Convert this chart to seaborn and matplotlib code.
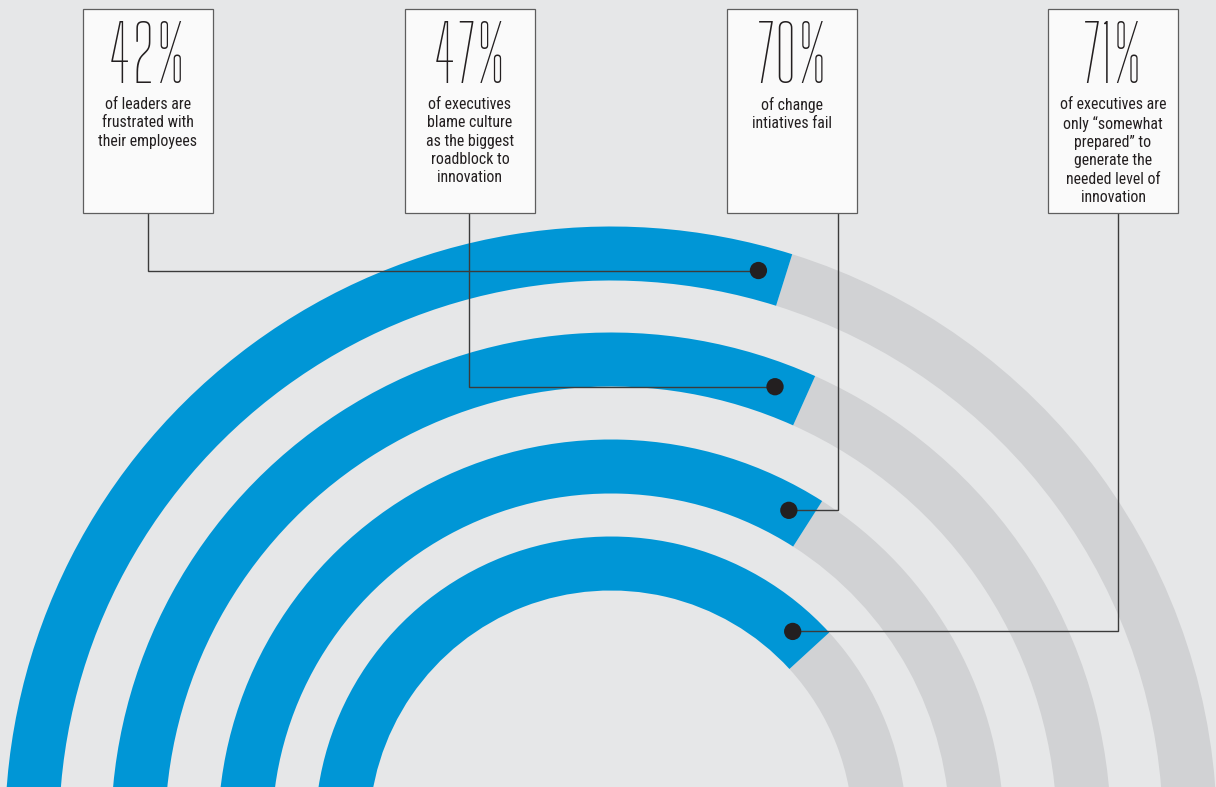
import matplotlib
matplotlib.use("Agg")
import numpy as np
import pandas as pd
import seaborn as sns
import matplotlib.pyplot as plt
from matplotlib.patches import Wedge, Rectangle

# ---------------- data ----------------
stat_values = [42, 47, 70, 71]
descriptions = [
    "of leaders are\nfrustrated with\ntheir employees",
    "of executives\nblame culture\nas the biggest\nroadblock to\ninnovation",
    "of change\nintiatives fail",
    "of executives are\nonly \u201csomewhat\nprepared\u201d to\ngenerate the\nneeded level of\ninnovation",
]
# angle (degrees, counter-clockwise from 3 o'clock) where each blue arc ends
blue_end_deg = [72.6, 65.9, 57.5, 42.5]
# angle of the marker dot on each arc
dot_deg = [75.3, 69.8, 61.1, 47.9]

# ---------------- layout ----------------
W, H = 1216, 787
BG = "#e6e7e8"
BLUE = "#0096d6"
GRAY = "#d1d2d4"
center = (611, -45.5)
outer_r = [606, 500, 393, 296]
ring_w = 54
box_cx = [148, 470, 792, 1113]
box_w, box_top, box_bot = 130, H - 9, H - 213
lead_x = [148, 469, 838, 1118]

sns.set_theme(style="white")
plt.rcParams["font.family"] = ["Roboto Condensed", "Archivo Narrow", "DejaVu Sans"]

fig = plt.figure(figsize=(W / 100, H / 100), dpi=100, facecolor=BG)
ax = fig.add_axes([0, 0, 1, 1])
ax.set_facecolor(BG)
ax.set_xlim(0, W)
ax.set_ylim(0, H)
ax.axis("off")

# arcs
for r, b_end in zip(outer_r, blue_end_deg):
    ax.add_patch(Wedge(center, r, 0, b_end, width=ring_w, facecolor=GRAY, edgecolor="none", zorder=1))
    ax.add_patch(Wedge(center, r, b_end, 180, width=ring_w, facecolor=BLUE, edgecolor="none", zorder=2))

# dots on arcs
mid_r = np.array(outer_r) - ring_w / 2 + 2
th = np.deg2rad(dot_deg)
dots = pd.DataFrame({
    "x": center[0] + mid_r * np.cos(th),
    "y": center[1] + mid_r * np.sin(th),
    "stat": [f"{v}%" for v in stat_values],
})

# leader lines
for lx, (dx, dy) in zip(lead_x, zip(dots["x"], dots["y"])):
    ax.plot([lx, lx, dx], [box_bot, dy, dy], color="#3b3b3b", lw=1.0, zorder=3,
            solid_joinstyle="miter")

sns.scatterplot(data=dots, x="x", y="y", ax=ax, s=155, color="#231f20",
                edgecolor="none", legend=False, zorder=4)

# boxes with text
for cx, val, desc in zip(box_cx, stat_values, descriptions):
    ax.add_patch(Rectangle((cx - box_w / 2, box_bot), box_w, box_top - box_bot,
                           facecolor="#fafafa", edgecolor="#5e5e5e", lw=0.9, zorder=5))
    ax.text(cx, H - 83, f"{val}%", ha="center", va="baseline", fontsize=55.5,
            family=["Big Shoulders Display", "Saira ExtraCondensed", "DejaVu Sans"], fontweight=200,
            color="#231f20", zorder=6)
    ax.text(cx, H - 97, desc, ha="center", va="top", fontsize=11.4, linespacing=1.28,
            color="#231f20", zorder=6)

fig.savefig("out.png", dpi=100, facecolor=BG)
